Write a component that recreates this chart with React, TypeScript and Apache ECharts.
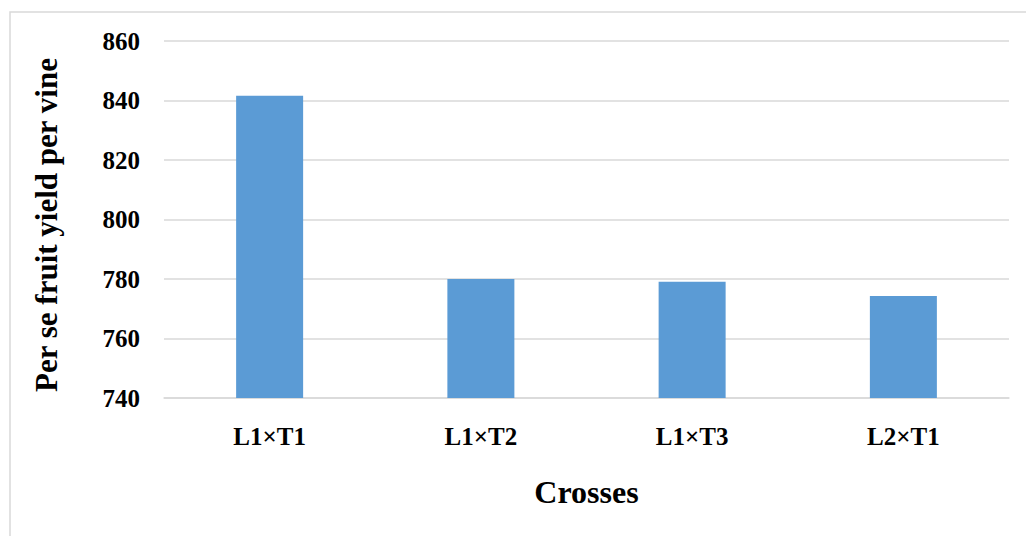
import React, { useEffect, useRef } from "react";
import * as echarts from "echarts";

// Per se fruit yield per vine for each cross
const crosses = ["L1×T1", "L1×T2", "L1×T3", "L2×T1"];
const yieldPerVine = [841.6, 780.0, 779.1, 774.3];

const yMin = 740;
const yMax = 860;
const yStep = 20;

const yTitle = "Per se fruit yield per vine";
const xTitle = "Crosses";

const serif = "Liberation Serif, Times New Roman, serif";

export default function App() {
  const ref = useRef<HTMLDivElement>(null);

  useEffect(() => {
    if (!ref.current) return;
    const chart = echarts.init(ref.current, null, { renderer: "svg" });
    chart.setOption({
      animation: false,
      backgroundColor: "#ffffff",
      grid: { left: 164, right: 17, top: 41, bottom: 138 },
      graphic: [
        {
          type: "rect",
          shape: { x: 10, y: 12, width: 1040, height: 560 },
          style: { fill: "none", stroke: "#d9d9d9", lineWidth: 1.5 },
          silent: true,
        },
        {
          type: "text",
          x: 46,
          y: 225,
          rotation: Math.PI / 2,
          style: {
            text: yTitle,
            font: `bold 31px ${serif}`,
            fill: "#000",
            align: "center",
            verticalAlign: "middle",
          },
          silent: true,
        },
      ],
      xAxis: {
        type: "category",
        data: crosses,
        name: xTitle,
        nameLocation: "middle",
        nameGap: 78,
        nameTextStyle: {
          fontFamily: serif,
          fontWeight: "bold",
          fontSize: 32,
          color: "#000",
        },
        axisLine: { show: true, lineStyle: { color: "#d9d9d9", width: 1.5 } },
        axisTick: { show: false },
        axisLabel: {
          margin: 26,
          fontFamily: serif,
          fontWeight: "bold",
          fontSize: 25,
          color: "#000",
        },
      },
      yAxis: {
        type: "value",
        min: yMin,
        max: yMax,
        interval: yStep,
        axisLine: { show: false },
        axisTick: { show: false },
        splitLine: { lineStyle: { color: "#d9d9d9", width: 1.5 } },
        axisLabel: {
          margin: 24,
          fontFamily: serif,
          fontWeight: "bold",
          fontSize: 25,
          color: "#000",
        },
      },
      series: [
        {
          type: "bar",
          data: yieldPerVine,
          barWidth: 67,
          itemStyle: { color: "#5b9bd5" },
        },
      ],
    });
    return () => chart.dispose();
  }, []);

  return (
    <div
      ref={ref}
      style={{ position: "fixed", left: 0, top: 0, width: 1026, height: 536 }}
    />
  );
}
